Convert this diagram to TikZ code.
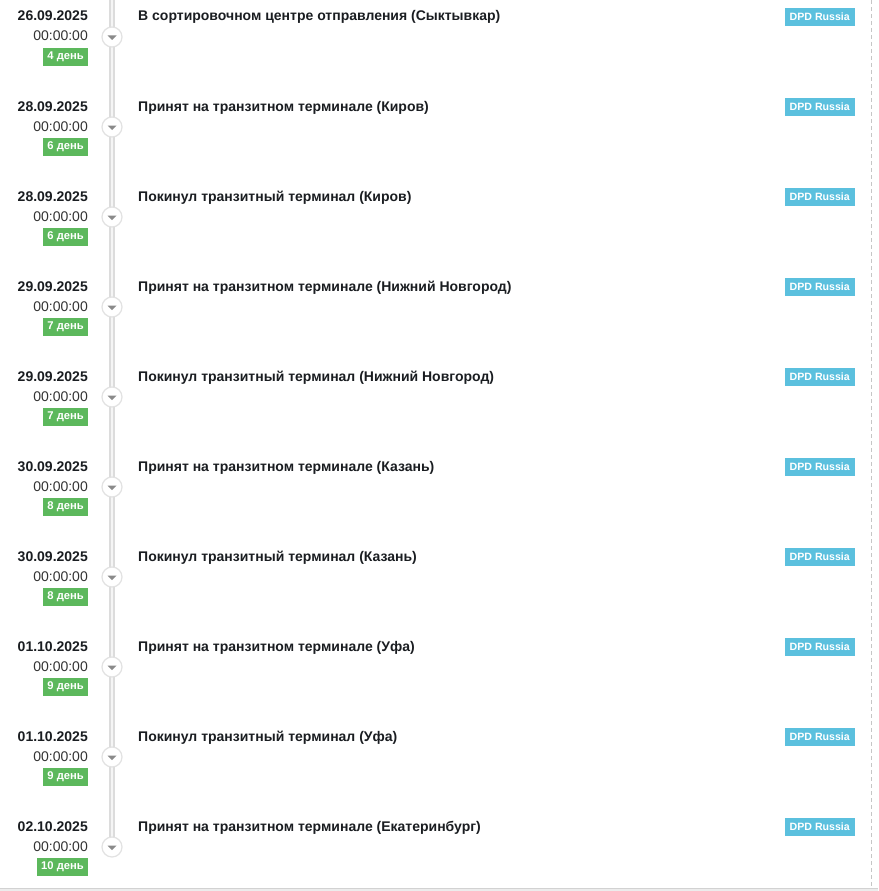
\documentclass[tikz,border=0pt]{standalone}
\usepackage{fontspec}
\setmainfont{Liberation Sans}
\usetikzlibrary{calc}
\definecolor{txt}{HTML}{1A1D21}
\definecolor{tmc}{HTML}{333333}
\definecolor{daygreen}{HTML}{5CB85C}
\definecolor{dpdblue}{HTML}{5BC0DE}
\definecolor{barc}{HTML}{DCDCDC}
\definecolor{circb}{HTML}{E2E2E2}
\definecolor{tric}{HTML}{8A8A8A}
\tikzset{
  datetext/.style={anchor=base east, inner sep=0pt, font=\fontsize{14}{14}\selectfont\bfseries, text=txt},
  timetext/.style={anchor=base east, inner sep=0pt, font=\fontsize{14}{14}\selectfont, text=tmc},
  titletext/.style={anchor=base west, inner sep=0pt, font=\fontsize{14}{14}\selectfont\bfseries, text=txt},
  daybadge/.style={anchor=east, fill=daygreen, text=white, font=\fontsize{11.2}{11}\selectfont\bfseries, inner xsep=4pt, inner ysep=0pt, minimum height=18pt},
  dpdbadge/.style={anchor=east, fill=dpdblue, text=white, font=\fontsize{10.6}{11}\selectfont\bfseries, inner xsep=5pt, inner ysep=0pt, minimum height=18pt},
  circ/.style={circle, draw=circb, line width=1.2pt, fill=white, minimum size=20pt, inner sep=0pt},
}
\begin{document}
\begin{tikzpicture}[x=1pt,y=-1pt]
\useasboundingbox (0,0) rectangle (878,891);
\fill[white] (0,0) rectangle (878,891);
% right dashed border and bottom rule
\coordinate (dtop) at (871,0);
\coordinate (dbot) at (871,887);
\draw[gray!45, line width=1pt, dash pattern=on 4pt off 3pt] (dtop) -- (dbot);
\coordinate (bl) at (0,888.5);
\coordinate (br) at (878,888.5);
\draw[gray!35, line width=1pt] (bl) -- (br);
\coordinate (bl2) at (0,889.8);
\coordinate (br2) at (878,889.8);
\draw[gray!15, line width=1.5pt] (bl2) -- (br2);
% timeline bar
\coordinate (ltop) at (112,0);
\coordinate (lbot) at (112,847);
\draw[barc, line width=6pt] (ltop) -- (lbot);
\draw[white!70!barc, line width=2.2pt] (ltop) -- (lbot);
\foreach \i/\d/\n/\t in {
0/26.09.2025/4/{В сортировочном центре отправления (Сыктывкар)},
1/28.09.2025/6/{Принят на транзитном терминале (Киров)},
2/28.09.2025/6/{Покинул транзитный терминал (Киров)},
3/29.09.2025/7/{Принят на транзитном терминале (Нижний Новгород)},
4/29.09.2025/7/{Покинул транзитный терминал (Нижний Новгород)},
5/30.09.2025/8/{Принят на транзитном терминале (Казань)},
6/30.09.2025/8/{Покинул транзитный терминал (Казань)},
7/01.10.2025/9/{Принят на транзитном терминале (Уфа)},
8/01.10.2025/9/{Покинул транзитный терминал (Уфа)},
9/02.10.2025/10/{Принят на транзитном терминале (Екатеринбург)}} {
  \pgfmathsetmacro{\yy}{90*\i}
  \node[datetext] (date\i) at (88,21+\yy) {\d};
  \node[timetext] (time\i) at (88,41+\yy) {00:00:00};
  \node[daybadge] (day\i) at (88,56.8+\yy) {\n\ день};
  \node[titletext] (title\i) at (138,21+\yy) {\t};
  \node[dpdbadge] (dpd\i) at (855,17+\yy) {DPD Russia};
  \node[circ] (circ\i) at (112,37+\yy) {};
  \fill[tric] ($(circ\i.center)+(-4.5,-1.5)$) -- ($(circ\i.center)+(4.5,-1.5)$) -- ($(circ\i.center)+(0,3)$) -- cycle;
}
\end{tikzpicture}
\end{document}
